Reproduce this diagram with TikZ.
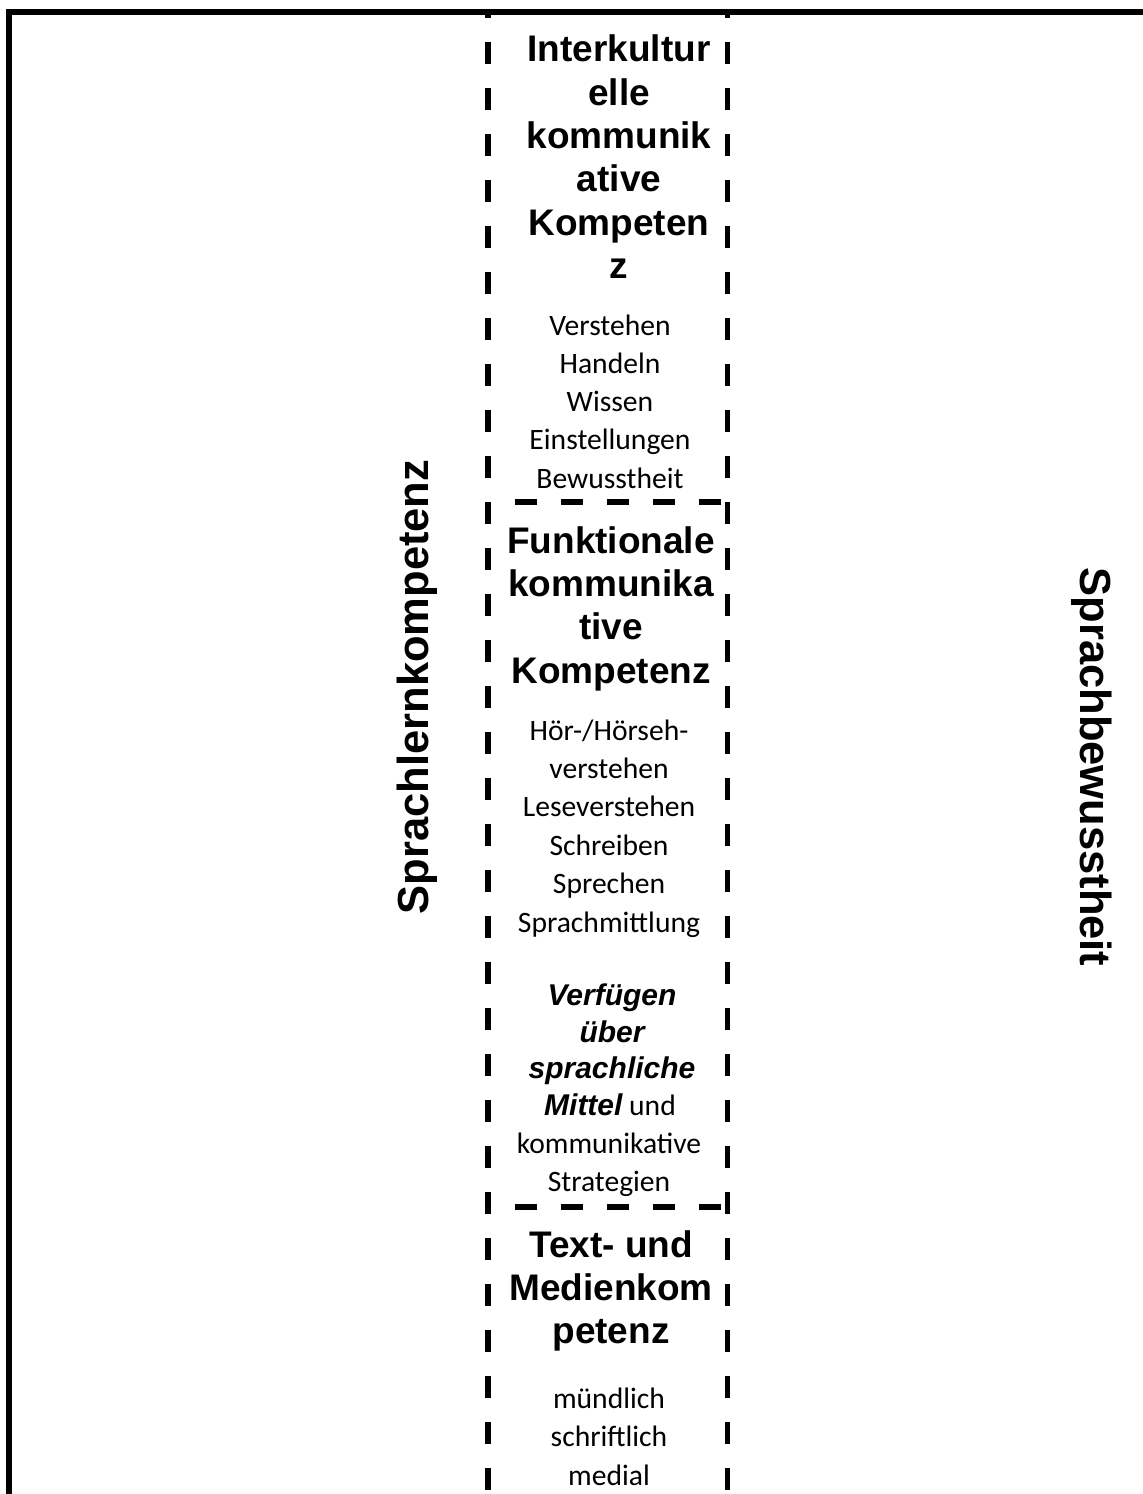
\documentclass[tikz,border=0pt]{standalone}
\usepackage{fontspec}
\setmainfont{Carlito}
\newfontfamily\arial{Liberation Sans}
\begin{document}
\begin{tikzpicture}[x=1pt,y=-1pt,
  head/.style={font=\arial\bfseries\fontsize{37}{43}\selectfont, inner sep=0pt, anchor=base},
  body/.style={font=\fontsize{29.6}{38}\selectfont, inner sep=0pt, anchor=base},
  side/.style={font=\arial\bfseries\fontsize{43.5}{50}\selectfont, inner sep=0pt},
  frame/.style={line width=6pt, line join=miter, line cap=butt},
  dashline/.style={line width=5.5pt, dash pattern=on 22pt off 24pt}
]
\useasboundingbox (0,0) rectangle (1143,1494);
\fill[white] (0,0) rectangle (1143,1494);

% column dashed borders
\coordinate (cLt) at (488,12);  \coordinate (cLb) at (488,1500);
\coordinate (cRt) at (727.5,12); \coordinate (cRb) at (727.5,1500);
\draw[dashline, dash phase=16pt] (cLt) -- (cLb);
\draw[dashline, dash phase=16pt] (cRt) -- (cRb);

% separators
\coordinate (s1a) at (515,502);  \coordinate (s1b) at (727,502);
\coordinate (s2a) at (515,1207); \coordinate (s2b) at (727,1207);
\draw[dashline] (s1a) -- (s1b);
\draw[dashline] (s2a) -- (s2b);

% outer frame (top and left)
\coordinate (fb) at (9,1500); \coordinate (fc) at (9,12); \coordinate (fr) at (1150,12);
\draw[frame] (fb) -- (fc) -- (fr);

% block 1
\foreach \t/\y [count=\i] in {Interkultur/61.7, elle/105.1, kommunik/148.5, ative/191.9, Kompeten/235.3, z/278.7}
  \node[head] (a\i) at (619,\y) {\t};
\foreach \t/\y [count=\i] in {Verstehen/335, Handeln/373.3, Wissen/411.6, Einstellungen/449.9, Bewusstheit/488.2}
  \node[body] (b\i) at (610,\y) {\t};

% block 2
\foreach \t/\y [count=\i] in {Funktionale/553, kommunika/596.4, tive/639.8, Kompetenz/683.2}
  \node[head] (c\i) at (611,\y) {\t};
\node[body] (d1) at (609,740) {Hör-/Hörseh-};
\foreach \t/\y [count=\i from 2] in {verstehen/778.4, Leseverstehen/816.8, Schreiben/855.2, Sprechen/893.6, Sprachmittlung/932}
  \node[body] (d\i) at (609,\y) {\t};
\foreach \t/\y [count=\i] in {Verfügen/1005, über/1042, sprachliche/1078.5}
  \node[body, font=\arial\bfseries\itshape\fontsize{30}{38}\selectfont] (e\i) at (612,\y) {\t};
\node[body] (e4) at (610,1115) {{\arial\bfseries\itshape\fontsize{30}{38}\selectfont Mittel} und};
\node[body] (e5) at (609,1153) {kommunikative};
\node[body] (e6) at (609,1191) {Strategien};

% block 3
\foreach \t/\y [count=\i] in {Text- und/1257, Medienkom/1300.4, petenz/1343.8}
  \node[head] (f\i) at (611,\y) {\t};
\foreach \t/\y [count=\i] in {mündlich/1408, schriftlich/1446.5, medial/1485}
  \node[body] (g\i) at (609,\y) {\t};

% side labels
\node[side, rotate=90] (left) at (417,687) {Sprachlernkompetenz};
\node[side, rotate=-90] (right) at (1092,767) {Sprachbewusstheit};
\end{tikzpicture}
\end{document}
